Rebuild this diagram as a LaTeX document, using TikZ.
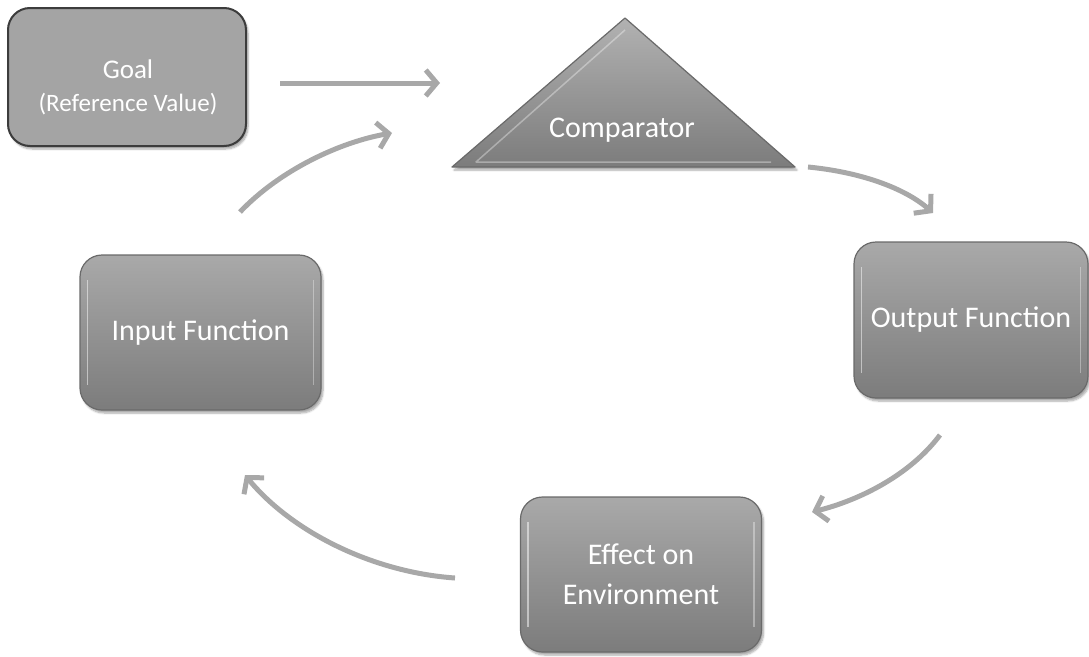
\documentclass[tikz,border=0pt]{standalone}
\usepackage{fontspec}
\setmainfont{Carlito}
\usetikzlibrary{arrows.meta,shadows.blur,calc}
\definecolor{boxtop}{HTML}{A9A9A9}
\definecolor{boxbot}{HTML}{7C7C7C}
\definecolor{boxedge}{HTML}{6A6A6A}
\definecolor{goalfill}{HTML}{A4A4A4}
\definecolor{goaledge}{HTML}{3C3C3C}
\definecolor{flow}{HTML}{A8A8A8}
\tikzset{
  soft/.style={blur shadow={shadow xshift=2pt,shadow yshift=-3pt,shadow blur steps=6,shadow opacity=35}},
  bevelbox/.style={draw=boxedge,line width=1.2pt,rounded corners=22pt,
    top color=boxtop,bottom color=boxbot,soft,
    text=white,font=\fontsize{30}{40}\selectfont,align=center,inner sep=0pt},
  goalbox/.style={draw=goaledge,line width=2pt,rounded corners=22pt,fill=goalfill,soft,inner sep=0pt},
  goaltext/.style={text=white,align=center,inner sep=0pt,font=\fontsize{25}{33}\selectfont},
  flowarrow/.style={draw=flow,line width=5pt,
    -{Straight Barb[length=11pt,width=26pt,line width=5pt]}},
}
\begin{document}
\begin{tikzpicture}[x=1pt,y=-1pt]
\useasboundingbox (0,0) rectangle (1089,656);

% goal box and its two-line label
\node[goalbox,minimum width=238pt,minimum height=138pt] (goal) at (127,77) {};
\node[goaltext] (goallabel) at (128,87)
  {{\fontsize{27}{33}\selectfont Goal}\\(Reference Value)};

% comparator triangle
\coordinate (apex) at (625,18);
\coordinate (bl) at (452,167);
\coordinate (br) at (795,167);
\path[soft,draw=boxedge,line width=1.2pt,top color=boxtop!90!white,bottom color=boxbot,line join=round]
  (apex) -- (br) -- (bl) -- cycle;
\draw[white,opacity=0.35,line width=1.5pt,line join=round]
  ($(apex)+(0,12)$) -- ($(bl)+(24,-5)$) -- ($(br)+(-24,-5)$);
\node[text=white,font=\fontsize{30}{36}\selectfont] (comp) at (622,130) {Comparator};

% the four process boxes
\node[bevelbox,minimum width=234pt,minimum height=156pt] (out) at (971,320) {Output Function};
\node[bevelbox,minimum width=241pt,minimum height=155pt] (env) at (641,574.5) {Effect on\\Environment};
\node[bevelbox,minimum width=241pt,minimum height=155pt] (inp) at (200.5,332.5) {Input Function};

% inner highlights on the box edges
\foreach \n in {out,env,inp}{
  \draw[white,opacity=0.5,line width=1.5pt]
    ([xshift=8pt,yshift=-26pt]\n.north west) -- ([xshift=8pt,yshift=26pt]\n.south west);
  \draw[white,opacity=0.35,line width=1.5pt]
    ([xshift=-8pt,yshift=-26pt]\n.north east) -- ([xshift=-8pt,yshift=26pt]\n.south east);
}

% connector end points
\coordinate (g1) at (280,83);   \coordinate (c1) at (440,83);
\coordinate (i1) at (240,212);  \coordinate (c2) at (392,133);
\coordinate (c3) at (808,167);  \coordinate (o1) at (933,213);
\coordinate (o2) at (940,435);  \coordinate (e1) at (812,512);
\coordinate (e2) at (455,578);  \coordinate (i2) at (245,475);

\draw[flowarrow] (g1) -- (c1);
\draw[flowarrow] (i1) .. controls (280,170) and (340,142) .. (c2);
\draw[flowarrow] (c3) .. controls (860,172) and (905,188) .. (o1);
\draw[flowarrow] (o2) .. controls (910,475) and (860,500) .. (e1);
\draw[flowarrow] (e2) .. controls (370,572) and (290,530) .. (i2);
\end{tikzpicture}
\end{document}
